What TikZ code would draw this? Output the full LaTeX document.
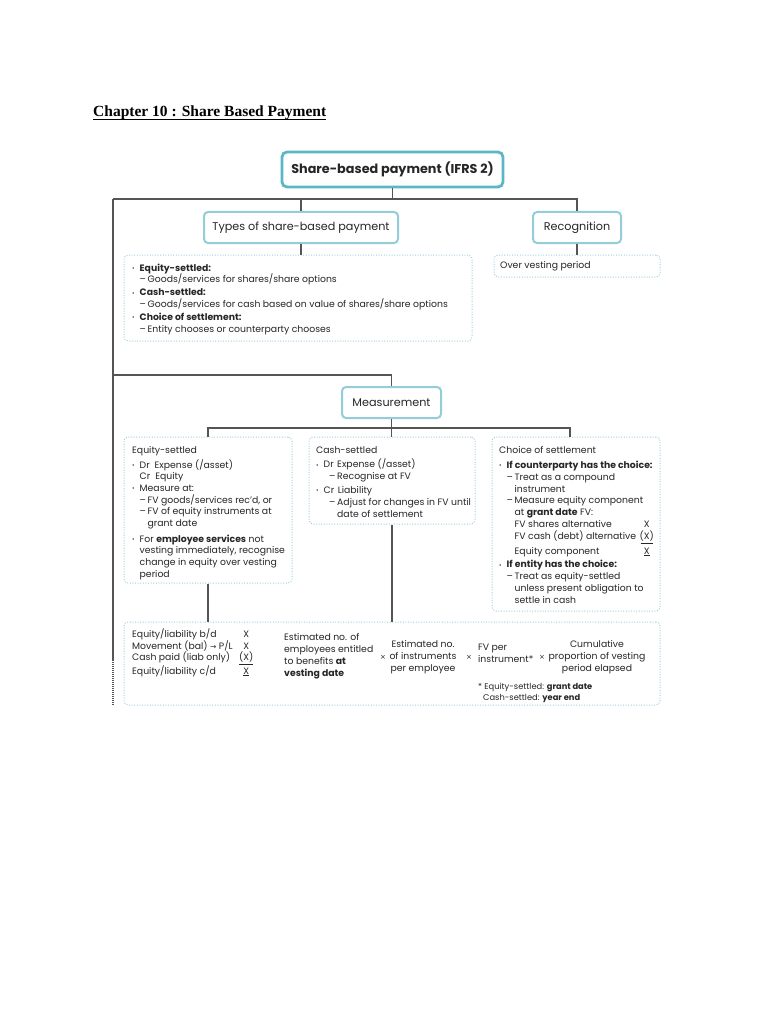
\documentclass[tikz,border=0pt]{standalone}
\usepackage{fontspec}
\setmainfont{Poppins}
\newfontfamily\titlefont{Liberation Serif}
\newfontfamily\djv{DejaVu Sans}
\definecolor{tealA}{HTML}{5BB7C4}
\definecolor{tealB}{HTML}{92CDD8}
\definecolor{dotc}{HTML}{9ED3DD}
\definecolor{linec}{HTML}{555555}
\definecolor{txt}{HTML}{262626}
\newcommand\bl{\makebox[7.5pt][l]{\raisebox{0.8pt}{\scalebox{0.65}{•}}}}
\newcommand\ind{\hspace*{7.5pt}}
\newcommand\dsh{\makebox[8pt][l]{–}}
\newcommand\tms{{\djv\fontsize{7}{7}\selectfont ×}}
\newcommand\lbx[1]{\makebox[126pt][l]{#1}}
\tikzset{
  mainbox/.style={draw=tealA, line width=2.8pt, rounded corners=5pt, fill=white, text=txt},
  subbox/.style={draw=tealB, line width=2pt, rounded corners=4pt, fill=white, text=txt},
  dotbox/.style={draw=dotc, line width=1pt, dash pattern=on 1pt off 1.6pt, rounded corners=4pt},
  conn/.style={draw=linec, line width=1.3pt},
  body/.style={font=\fontsize{9.3}{11.6}\selectfont, text=txt, align=left, inner sep=0pt},
  bodyw/.style={body, font=\fontsize{9.3}{11.9}\selectfont},
  times/.style={text=txt, inner sep=0pt},
}
\begin{document}
\begin{tikzpicture}[x=1pt,y=-1pt]
\useasboundingbox[fill=white] (0,0) rectangle (768,1024);
% title
\node[anchor=base west, inner sep=0pt] (title) at (93,117)
  {\titlefont\bfseries\fontsize{15.5}{18}\selectfont Chapter 10 : Share Based Payment\ };
\draw[line width=0.9pt] ([yshift=-2.5pt]title.base west) -- ([yshift=-2.5pt]title.base east);
% boxes
\node[mainbox, minimum width=221pt, minimum height=35pt] (top) at (392.5,169.5)
  {\fontsize{12.8}{14}\selectfont\bfseries Share-based payment (IFRS 2)};
\node[subbox, minimum width=194pt, minimum height=31pt] (types) at (301,227.5)
  {\fontsize{11.2}{12}\selectfont Types of share-based payment};
\node[subbox, minimum width=88pt, minimum height=31pt] (recog) at (577,227.5)
  {\fontsize{11.2}{12}\selectfont Recognition};
\node[dotbox, minimum width=348pt, minimum height=86pt] (typesList) at (298,298) {};
\node[dotbox, minimum width=166pt, minimum height=22pt] (recogList) at (577,266) {};
\node[subbox, minimum width=99pt, minimum height=31pt] (meas) at (391.5,402.5)
  {\fontsize{11.2}{12}\selectfont Measurement};
\node[dotbox, minimum width=168pt, minimum height=146pt] (eq) at (208,510) {};
\node[dotbox, minimum width=166pt, minimum height=87pt] (cash) at (392,480.5) {};
\node[dotbox, minimum width=168pt, minimum height=174pt] (choice) at (576,524) {};
\node[dotbox, minimum width=536pt, minimum height=83pt] (bottom) at (392,663.5) {};
% connectors
\coordinate (L1) at (113,199);
\coordinate (L2) at (113,660);
\coordinate (L3) at (113,705);
\draw[conn] (L1) -| (recog.north);
\draw[conn] (top.south) -- (top.south |- L1);
\draw[conn] (types.north |- L1) -- (types.north);
\draw[conn] (L1) -- (L2);
\draw[draw=linec, line width=1.3pt, dash pattern=on 1pt off 1pt] (L2) -- (L3);
\draw[conn] (types.south) -- (typesList.north -| types.south);
\draw[conn] (recog.south) -- (recogList.north);
\coordinate (M1) at (113,375);
\draw[conn] (M1) -| (meas.north);
\coordinate (M2) at (391.5,428);
\draw[conn] (meas.south) -- (M2);
\draw[conn] (eq.north -| 208,0) |- (M2) -| (choice.north -| 570,0);
\draw[conn] (M2) -- (M2 |- cash.north);
\draw[conn] (eq.south) -- (eq.south |- bottom.north);
\draw[conn] (cash.south) -- (cash.south |- bottom.north);
% texts
\node[body, anchor=north west] (typesTxt) at (132,263.5) {%
\bl\textbf{Equity-settled:}\\
\ind\dsh Goods/services for shares/share options\\[1.5pt]
\bl\textbf{Cash-settled:}\\
\ind\dsh Goods/services for cash based on value of shares/share options\\[1.5pt]
\bl\textbf{Choice of settlement:}\\
\ind\dsh Entity chooses or counterparty chooses};
\node[body, anchor=north west] (recogTxt) at (500,261.5) {Over vesting period};
\node[body, anchor=north west, font=\fontsize{9.3}{11.7}\selectfont] (eqTxt) at (132,446) {%
Equity-settled\\[3.2pt]
\bl Dr\ \ Expense (/asset)\\
\ind Cr\ \ Equity\\
\bl Measure at:\\
\ind\dsh FV goods/services rec'd, or\\
\ind\dsh FV of equity instruments at\\
\ind\hspace*{8pt}grant date\\[3.8pt]
\bl For \textbf{employee services} not\\
\ind vesting immediately, recognise\\
\ind change in equity over vesting\\
\ind period};
\node[bodyw, anchor=north west] (cashTxt) at (316,446) {%
Cash-settled\\[3pt]
\bl Dr\hspace{3.5pt}Expense (/asset)\\
\hspace*{13pt}\dsh Recognise at FV\\[2pt]
\bl Cr\hspace{3.5pt}Liability\\
\hspace*{13pt}\dsh Adjust for changes in FV until\\
\hspace*{21pt}date of settlement};
\node[bodyw, anchor=north west] (choiceTxt) at (499,446) {%
Choice of settlement\\[3pt]
\bl\textbf{If counterparty has the choice:}\\
\ind\dsh Treat as a compound\\
\ind\hspace*{8pt}instrument\\
\ind\dsh Measure equity component\\
\ind\hspace*{8pt}at \textbf{grant date} FV:\\
\ind\hspace*{8pt}\lbx{FV shares alternative}\makebox[12pt]{X}\\
\ind\hspace*{8pt}\lbx{FV cash (debt) alternative}\underline{\makebox[12pt]{(X)}}\\[2.5pt]
\ind\hspace*{8pt}\lbx{Equity component}\makebox[12pt]{\underline{X}}\\[2pt]
\bl\textbf{If entity has the choice:}\\
\ind\dsh Treat as equity-settled\\
\ind\hspace*{8pt}unless present obligation to\\
\ind\hspace*{8pt}settle in cash};
% bottom box texts
\node[body, anchor=north west] (tbl) at (132,628.5) {%
\makebox[107pt][l]{Equity/liability b/d}\makebox[14pt]{X}\\
\makebox[107pt][l]{Movement (bal) {\djv\fontsize{7.5}{8}\selectfont →} P/L}\makebox[14pt]{X}\\
\makebox[107pt][l]{Cash paid (liab only)}\makebox[14pt]{\underline{(X)}}\\
\makebox[107pt][l]{Equity/liability c/d}\makebox[14pt]{\underline{X}}};
\node[bodyw, anchor=north west] (f1) at (284,633) {%
Estimated no. of\\employees entitled\\to benefits \textbf{at}\\\textbf{vesting date}};
\node[times] (x1) at (383,657) {\tms};
\node[bodyw, anchor=north, align=center] (f2) at (423,640) {%
Estimated no.\\of instruments\\per employee};
\node[times] (x2) at (469,657) {\tms};
\node[body, anchor=north west] (f3) at (478,644) {FV per\\instrument*};
\node[times] (x3) at (542,657) {\tms};
\node[bodyw, anchor=north, align=center] (f4) at (597,640) {%
Cumulative\\proportion of vesting\\period elapsed};
\node[body, anchor=north west, font=\fontsize{8.3}{11}\selectfont] (note) at (478,682.5) {%
* Equity-settled: \textbf{grant date}\\
\hspace*{5pt}Cash-settled: \textbf{year end}};
\end{tikzpicture}
\end{document}
